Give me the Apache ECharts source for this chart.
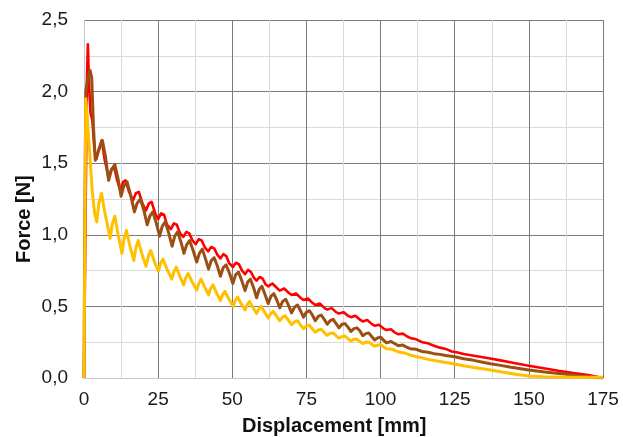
<!DOCTYPE html>
<html>
<head>
<meta charset="utf-8">
<script src="https://cdn.jsdelivr.net/npm/echarts@6/dist/echarts.min.js"></script>
<style>html,body{margin:0;padding:0;background:#fff}#c{width:623px;height:437px}</style>
</head>
<body>
<div id="c"></div>
<script>
var xTicks = [0, 25, 50, 75, 100, 125, 150, 175];
var yTicks = [0, 0.5, 1.0, 1.5, 2.0, 2.5];
var seriesNames = ['Red', 'Brown', 'Yellow'];

var redData = [[0,0],[0.5,1.1],[1.0,2.1],[1.3,2.33],[1.7,2.05],[2.2,1.85],[2.8,1.80],[3.5,1.60],[4.2,1.53],[5.0,1.60],[6.0,1.66],[7.0,1.52],[8.3,1.40],[9.3,1.46],[10.2,1.47],[11.2,1.38],[12.2,1.31],[13.2,1.37],[14.0,1.38],[15.2,1.30],[16.5,1.24],[17.5,1.29],[18.5,1.30],[19.7,1.22],[20.9,1.17],[21.9,1.22],[22.8,1.23],[24,1.15],[25,1.11],[26,1.15],[27,1.14],[28,1.07],[29.3,1.04],[30.3,1.08],[31.3,1.07],[32.4,1.01],[33.5,0.985],[34.5,1.02],[35.5,1.01],[36.6,0.96],[37.7,0.935],[38.7,0.97],[39.7,0.96],[40.8,0.91],[41.9,0.885],[42.9,0.915],[43.9,0.905],[45,0.86],[46,0.835],[47,0.865],[48,0.85],[49,0.80],[50.2,0.775],[51.2,0.805],[52.2,0.795],[53.3,0.75],[54.3,0.725],[55.3,0.755],[56.3,0.74],[57.3,0.70],[58.2,0.68],[59.2,0.705],[60.2,0.695],[61.2,0.655],[62.1,0.64],[63.5,0.66],[65,0.63],[66,0.61],[67.5,0.625],[69,0.595],[70,0.58],[71.5,0.59],[73,0.56],[74,0.545],[75.5,0.555],[77,0.525],[78,0.51],[79.5,0.52],[81,0.49],[82,0.478],[83.5,0.488],[85,0.46],[86,0.45],[87.5,0.46],[89,0.435],[90,0.425],[91.5,0.435],[93,0.408],[94,0.395],[95.5,0.405],[97,0.378],[98,0.365],[99.5,0.372],[101,0.345],[102,0.335],[103.5,0.34],[105,0.315],[106,0.305],[107.5,0.31],[109,0.29],[110,0.28],[112,0.27],[114,0.25],[116,0.242],[118,0.225],[120,0.212],[122,0.203],[124,0.185],[126,0.178],[128,0.168],[130,0.16],[133,0.15],[136,0.14],[140,0.125],[145,0.105],[150,0.086],[155,0.068],[160,0.05],[165,0.035],[170,0.02],[175,0.0]];

var brownData = [[0,0],[0.3,1.2],[0.6,2.0],[1.2,2.08],[2.0,2.15],[2.6,2.10],[3.2,1.75],[3.8,1.52],[4.8,1.58],[6.2,1.66],[7.2,1.55],[8.3,1.38],[9.2,1.45],[10.4,1.49],[11.4,1.40],[12.5,1.27],[13.4,1.34],[14.5,1.37],[15.7,1.28],[17.0,1.16],[17.9,1.22],[19.0,1.25],[20.2,1.17],[21.3,1.07],[22.2,1.13],[23.2,1.16],[24.4,1.08],[25.5,0.99],[26.4,1.06],[27.4,1.09],[28.6,1.01],[29.7,0.92],[30.6,0.99],[31.6,1.02],[32.7,0.95],[33.7,0.87],[34.6,0.93],[35.6,0.96],[36.8,0.89],[38.0,0.81],[38.9,0.87],[39.9,0.90],[41.0,0.83],[42.0,0.76],[42.9,0.82],[43.9,0.84],[45.0,0.78],[46.0,0.71],[46.9,0.77],[47.9,0.79],[49.1,0.73],[50.2,0.66],[51.1,0.72],[52.1,0.74],[53.2,0.68],[54.3,0.61],[55.2,0.67],[56.1,0.69],[57.2,0.63],[58.2,0.56],[59.1,0.62],[60.0,0.64],[61.1,0.58],[62.1,0.52],[63,0.57],[64,0.59],[65,0.545],[66,0.49],[67,0.535],[68,0.55],[69,0.505],[70,0.455],[71,0.495],[72,0.51],[73,0.47],[74,0.425],[75,0.46],[76,0.47],[77,0.44],[78,0.40],[79,0.43],[80,0.44],[81,0.41],[82,0.375],[83,0.40],[84,0.41],[85,0.38],[86,0.35],[87,0.375],[88,0.38],[89,0.355],[90,0.325],[91,0.345],[92,0.35],[93,0.33],[94,0.295],[95,0.31],[96,0.315],[97,0.29],[98,0.265],[99,0.28],[100,0.285],[101,0.265],[102,0.245],[103.5,0.255],[105,0.237],[106,0.225],[107.5,0.23],[109,0.213],[110,0.205],[112,0.2],[114,0.185],[116,0.18],[118,0.17],[120,0.165],[122,0.157],[125,0.148],[128,0.135],[131,0.125],[134,0.112],[137,0.10],[140,0.09],[144,0.075],[150,0.056],[156,0.04],[162,0.028],[168,0.012],[175,0]];

var yellowData = [[0,0],[0.3,1.0],[0.6,1.95],[1.0,1.85],[1.4,1.72],[2.0,1.55],[2.8,1.30],[3.6,1.15],[4.3,1.09],[5.0,1.22],[5.9,1.29],[7.0,1.16],[8.8,0.975],[9.6,1.08],[10.4,1.13],[11.5,1.00],[12.8,0.87],[13.5,0.97],[14.3,1.03],[15.5,0.92],[16.8,0.82],[17.5,0.91],[18.3,0.96],[19.6,0.86],[20.9,0.78],[21.7,0.85],[22.5,0.89],[23.8,0.81],[25.1,0.745],[25.8,0.80],[26.6,0.83],[28,0.76],[29.6,0.69],[30.3,0.74],[31.1,0.775],[32.3,0.71],[33.6,0.65],[34.3,0.70],[35.1,0.73],[36.5,0.67],[38.0,0.615],[38.7,0.66],[39.5,0.69],[40.8,0.63],[42.0,0.58],[42.7,0.625],[43.5,0.65],[44.8,0.59],[46.0,0.54],[46.7,0.58],[47.5,0.605],[48.9,0.55],[50.3,0.50],[51.0,0.54],[51.8,0.565],[53.1,0.515],[54.3,0.475],[55.0,0.51],[55.8,0.535],[57,0.49],[58.2,0.45],[58.9,0.48],[59.7,0.50],[60.9,0.46],[62.1,0.42],[63,0.45],[63.8,0.465],[65,0.43],[66,0.40],[67,0.425],[67.8,0.435],[69,0.40],[70,0.372],[71,0.392],[72,0.40],[73,0.37],[74,0.345],[75,0.362],[76,0.368],[77,0.342],[78,0.32],[79,0.335],[80,0.34],[81,0.318],[82,0.298],[83,0.312],[84,0.315],[85,0.296],[86,0.278],[87,0.29],[88,0.293],[89,0.275],[90,0.258],[91,0.27],[92,0.272],[93,0.255],[94,0.24],[95,0.25],[96,0.252],[97,0.236],[98,0.222],[99,0.23],[100,0.232],[102,0.205],[104,0.2],[106,0.182],[108,0.175],[110,0.16],[113,0.145],[116,0.13],[120,0.115],[124.5,0.1],[128,0.085],[132,0.072],[137,0.056],[142,0.038],[146,0.025],[150,0.014],[155,0.008],[165,0.006],[175,0.005]];

var chart = echarts.init(document.getElementById('c'), null, {renderer: 'canvas'});
var labelFont = 'Liberation Sans, Arial, sans-serif';
function mkSeries(name, data, color, w) {
  return {name: name, type: 'line', data: data, showSymbol: false, symbol: 'none',
    lineStyle: {color: color, width: w, join: 'round'}, itemStyle: {color: color}, animation: false};
}
chart.setOption({
  animation: false,
  grid: {left: 84, right: 20, top: 20, bottom: 59, containLabel: false},
  xAxis: {
    type: 'value', min: xTicks[0], max: xTicks[xTicks.length - 1], interval: 25,
    axisLine: {show: true, lineStyle: {color: '#c8c8c8', width: 1}},
    axisTick: {show: false},
    axisLabel: {color: '#1a1a1a', fontSize: 19, fontFamily: labelFont, margin: 12,
      formatter: function (v) { return String(v); }},
    splitLine: {show: true, lineStyle: {color: '#7a7a7a', width: 1}},
    minorTick: {show: false, splitNumber: 2},
    minorSplitLine: {show: true, lineStyle: {color: '#d9d9d9', width: 1}}
  },
  yAxis: {
    type: 'value', min: yTicks[0], max: yTicks[yTicks.length - 1], interval: 0.5,
    axisLine: {show: true, lineStyle: {color: '#c8c8c8', width: 1}},
    axisTick: {show: false},
    axisLabel: {color: '#1a1a1a', fontSize: 19, fontFamily: labelFont, margin: 16,
      formatter: function (v) { return v.toFixed(1).replace('.', ','); }},
    splitLine: {show: true, lineStyle: {color: '#7a7a7a', width: 1}},
    minorTick: {show: false, splitNumber: 2},
    minorSplitLine: {show: true, lineStyle: {color: '#d9d9d9', width: 1}}
  },
  series: [
    mkSeries(seriesNames[0], redData, '#ff0000', 2.6),
    mkSeries(seriesNames[1], brownData, '#9c4f12', 3),
    mkSeries(seriesNames[2], yellowData, '#ffc000', 3)
  ],
  graphic: [
    {type: 'text', left: 334 - 92, top: 416,
      style: {text: 'Displacement [mm]', font: 'bold 20px ' + labelFont, fill: '#111'}},
    {type: 'text', x: 14, y: 263, rotation: Math.PI / 2,
      style: {text: 'Force [N]', font: 'bold 20px ' + labelFont, fill: '#111'}}
  ]
});
</script>
</body>
</html>
